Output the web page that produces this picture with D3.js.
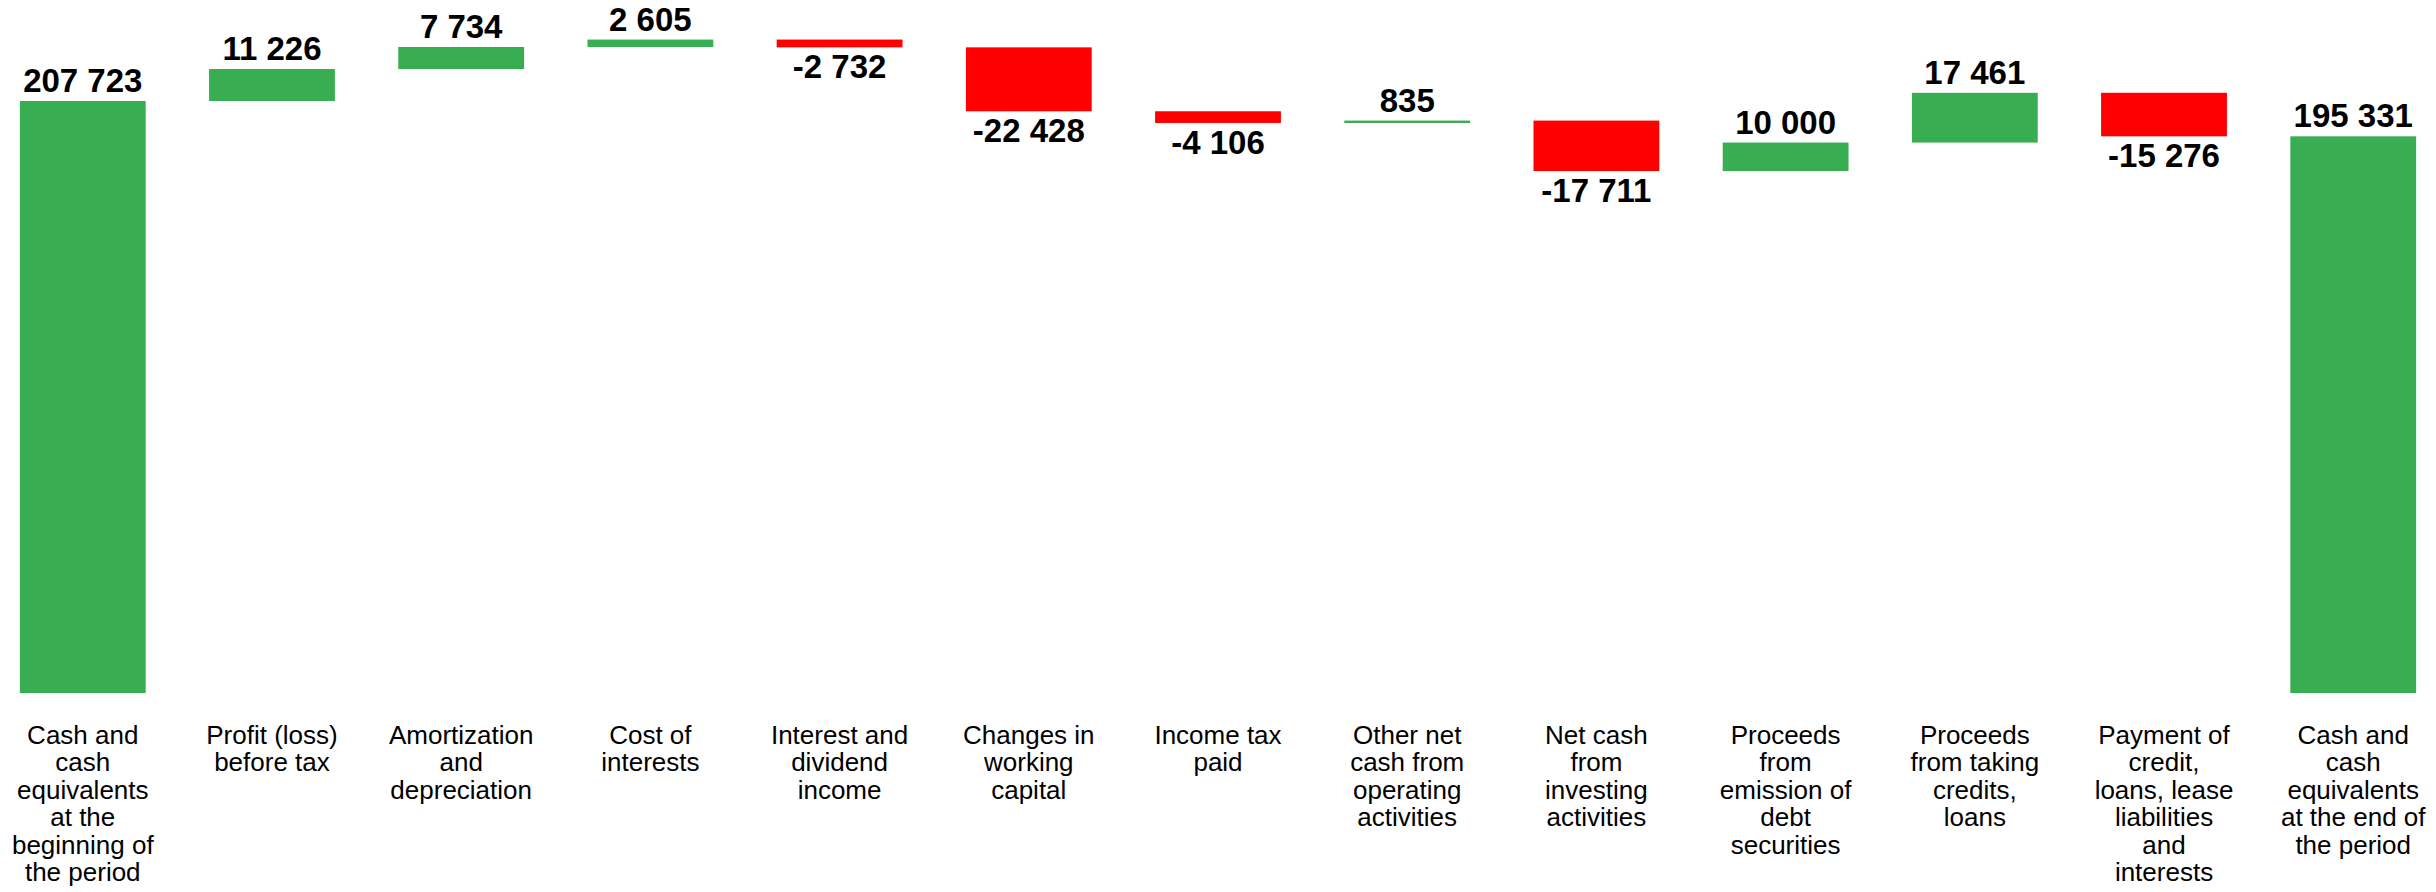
<html>
<head>
  <meta charset="utf-8">
  <title>Cash flow waterfall</title>
  <script src="https://d3js.org/d3.v7.min.js"></script>
  <style>
    body { margin: 0; background: #fff; }
  </style>
</head>
<body>
<div id="my_dataviz"></div>
<script>
// categories (label lines split by \n)
var categories = [
  "Cash and\ncash\nequivalents\nat the\nbeginning of\nthe period",
  "Profit (loss)\nbefore tax",
  "Amortization\nand\ndepreciation",
  "Cost of\ninterests",
  "Interest and\ndividend\nincome",
  "Changes in\nworking\ncapital",
  "Income tax\npaid",
  "Other net\ncash from\noperating\nactivities",
  "Net cash\nfrom\ninvesting\nactivities",
  "Proceeds\nfrom\nemission of\ndebt\nsecurities",
  "Proceeds\nfrom taking\ncredits,\nloans",
  "Payment of\ncredit,\nloans, lease\nliabilities\nand\ninterests",
  "Cash and\ncash\nequivalents\nat the end of\nthe period"
];
var values = [207723, 11226, 7734, 2605, -2732, -22428, -4106, 835, -17711, 10000, 17461, -15276, 195331];
var isTotal = [true, false, false, false, false, false, false, false, false, false, false, false, true];

var width = 2436, height = 892;
var baseY = 693;

// build waterfall steps
var steps = [];
var running = 0;
values.forEach(function(v, i) {
  if (isTotal[i]) {
    steps.push({cat: categories[i], v: v, start: 0, end: v, total: true});
    running = v;
  } else {
    steps.push({cat: categories[i], v: v, start: running, end: running + v, total: false});
    running += v;
  }
});

var svg = d3.select("#my_dataviz")
  .append("svg")
  .attr("width", width)
  .attr("height", height);

var x = d3.scaleBand()
  .domain(categories)
  .range([0, width])
  .paddingInner(0.335)
  .paddingOuter(0.105);

var y = d3.scaleLinear()
  .domain([0, 243170])
  .range([baseY, 0]);

var fmt = function(v) {
  var s = d3.format(",")(Math.abs(v)).replace(/,/g, " ");
  return (v < 0 ? "-" : "") + s;
};

// bars
svg.selectAll("rect.bar")
  .data(steps)
  .enter().append("rect")
  .attr("class", "bar")
  .attr("x", function(d) { return x(d.cat); })
  .attr("width", x.bandwidth())
  .attr("y", function(d) { return y(Math.max(d.start, d.end)); })
  .attr("height", function(d) { return Math.max(1.5, Math.abs(y(d.start) - y(d.end))); })
  .style("fill", function(d) { return d.v < 0 ? "#ff0000" : "#38ad52"; });

// value labels
svg.selectAll("text.val")
  .data(steps)
  .enter().append("text")
  .attr("class", "val")
  .attr("x", function(d) { return x(d.cat) + x.bandwidth() / 2; })
  .attr("y", function(d) {
    return d.v < 0 ? y(Math.min(d.start, d.end)) + 31 : y(Math.max(d.start, d.end)) - 9;
  })
  .attr("text-anchor", "middle")
  .attr("font-family", "'Liberation Sans Narrow', sans-serif")
  .attr("font-weight", "bold")
  .attr("font-size", "33px")
  .attr("fill", "#000")
  .text(function(d) { return fmt(d.v); });

// category labels
var xAxis = svg.append("g").attr("class", "xaxis");
steps.forEach(function(d) {
  var t = xAxis.append("text")
    .attr("x", x(d.cat) + x.bandwidth() / 2)
    .attr("y", baseY + 51)
    .attr("text-anchor", "middle")
    .attr("font-family", "'Liberation Sans Narrow', sans-serif")
    .attr("font-size", "26px")
    .attr("fill", "#000");
  d.cat.split("\n").forEach(function(line, j) {
    t.append("tspan")
      .attr("x", x(d.cat) + x.bandwidth() / 2)
      .attr("dy", j === 0 ? 0 : 27.4)
      .text(line);
  });
});
</script>
</body>
</html>
